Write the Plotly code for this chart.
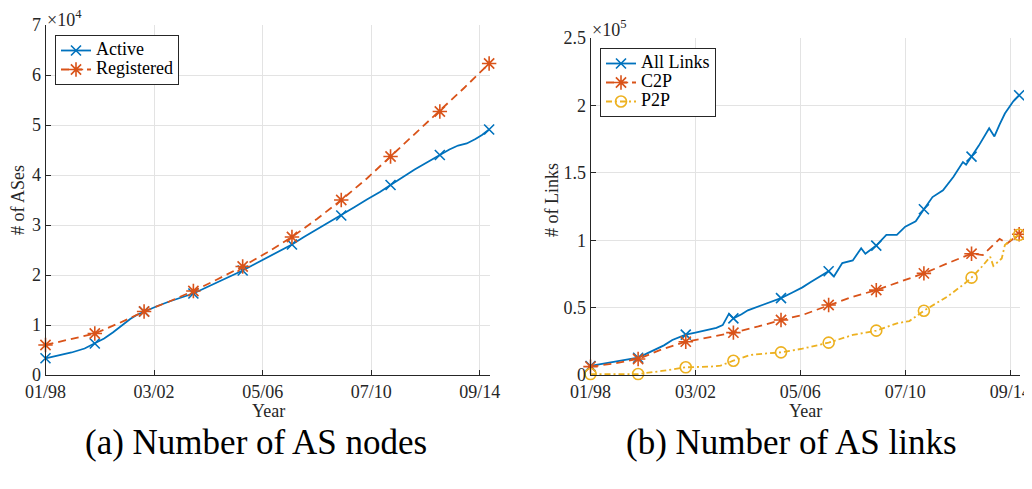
import plotly.graph_objects as go

# ---------------- data ----------------
# x in months since 01/1998
TICK_MONTHS = [0, 50, 100, 150, 200]
TICK_LABELS = ["01/98", "03/02", "05/06", "07/10", "09/14"]
MARK_MONTHS = [0, 22.7, 45.4, 68.1, 90.8, 113.5, 136.2, 158.9, 181.6, 204.3]

# (a) number of AS nodes, in units of 1e4
ACTIVE_M = [0, 6, 12, 18, 22.7, 27, 31, 35, 39, 42, 45.4, 51, 57, 63, 68.1, 74, 80, 86,
            90.8, 96, 102, 108, 113.5, 119, 125, 131, 136.2, 142, 148, 154, 158.9, 164,
            170, 176, 181.6, 186, 190, 194, 198, 201, 204.3]
ACTIVE_V = [0.334, 0.39, 0.45, 0.53, 0.63, 0.73, 0.85, 0.99, 1.12, 1.20, 1.27, 1.37, 1.47,
            1.56, 1.63, 1.75, 1.87, 1.98, 2.09, 2.21, 2.35, 2.48, 2.61, 2.76, 2.91, 3.06,
            3.19, 3.35, 3.51, 3.66, 3.80, 3.95, 4.11, 4.26, 4.40, 4.51, 4.59, 4.63, 4.72,
            4.80, 4.91]
REG_M = [0, 11, 22.7, 34, 45.4, 57, 68.1, 79, 90.8, 102, 113.5, 125, 136.2, 148, 158.9,
         170, 181.6, 193, 204.3]
REG_V = [0.60, 0.71, 0.83, 1.04, 1.27, 1.47, 1.68, 1.91, 2.17, 2.45, 2.76, 3.12, 3.50,
         3.93, 4.37, 4.82, 5.27, 5.75, 6.23]

# (b) number of AS links, in units of 1e5
ALL_M = [0, 8, 16, 22.7, 27, 31, 35, 39, 42, 45.4, 50, 55, 60, 63, 66, 68.1, 72, 75, 80,
         85, 90.8, 96, 101, 105, 109, 113.5, 116, 120, 125, 129, 131, 136.2, 141, 146,
         150, 155, 158.9, 163, 168, 173, 177.5, 179, 181.6, 185, 190, 192.5, 195, 197.5,
         201.5, 204.3]
ALL_V = [0.067, 0.09, 0.108, 0.128, 0.16, 0.19, 0.22, 0.26, 0.28, 0.30, 0.315, 0.33, 0.35,
         0.37, 0.455, 0.42, 0.45, 0.48, 0.51, 0.535, 0.57, 0.61, 0.65, 0.69, 0.73, 0.77,
         0.73, 0.83, 0.85, 0.94, 0.90, 0.96, 1.04, 1.04, 1.10, 1.14, 1.23, 1.32, 1.37,
         1.47, 1.58, 1.56, 1.62, 1.70, 1.83, 1.77, 1.86, 1.94, 2.03, 2.075]
C2P_M = [0, 11, 22.7, 34, 45.4, 57, 68.1, 80, 90.8, 101, 113.5, 124, 136.2, 148, 158.9,
         170, 181.6, 187, 195, 198.5, 204.3]
C2P_V = [0.062, 0.085, 0.119, 0.19, 0.247, 0.28, 0.314, 0.36, 0.408, 0.445, 0.519, 0.576,
         0.63, 0.692, 0.754, 0.828, 0.90, 0.89, 1.01, 0.975, 1.044]
P2P_M = [0, 11, 22.7, 34, 45.4, 57, 62, 68.1, 76, 84, 90.8, 101, 113.5, 125, 136.2, 146,
         152, 158.9, 170, 177.5, 181.6, 186.5, 190.5, 192, 196, 197.5, 201, 204.3]
P2P_V = [0.007, 0.006, 0.007, 0.03, 0.057, 0.062, 0.07, 0.106, 0.148, 0.16, 0.168, 0.195,
         0.24, 0.297, 0.329, 0.383, 0.40, 0.477, 0.581, 0.668, 0.722, 0.803, 0.877, 0.809,
         0.865, 0.964, 1.014, 1.04]

# ---------------- style ----------------
BLUE, ORANGE, YELLOW = "#0072BD", "#D95319", "#EDB120"
INK = "#262626"
GRID = "#e3e3e3"
FONT = "Liberation Serif"
OFF = 8                      # page body margin
W, H = 1032 - OFF, 489 - OFF  # figure size so that it fills the window


def px(sx):
    return (sx - OFF) / W


def py(sy):
    return 1 - (sy - OFF) / H


def mark_colors(months, color):
    return [color if any(abs(m - k) < 1e-6 for k in MARK_MONTHS) else "rgba(0,0,0,0)"
            for m in months]


def label(name):
    return '<span style="font-size:18px">%s</span>' % name


def series(months, vals, name, color, symbol, size, dash, xa, ya, legend):
    return go.Scatter(
        x=months, y=vals, name=label(name), mode="lines+markers",
        line=dict(color=color, width=1.8, dash=dash),
        marker=dict(symbol=symbol, size=size, color=mark_colors(months, color),
                    line=dict(width=1.6)),
        xaxis=xa, yaxis=ya, legend=legend, cliponaxis=False,
    )


fig = go.Figure()
fig.add_trace(series(ACTIVE_M, ACTIVE_V, "Active", BLUE, "x-thin-open", 10, "solid", "x", "y", "legend"))
fig.add_trace(series(REG_M, REG_V, "Registered", ORANGE, "asterisk-open", 12, "8px,5px", "x", "y", "legend"))
fig.add_trace(series(ALL_M, ALL_V, "All Links", BLUE, "x-thin-open", 10, "solid", "x2", "y2", "legend2"))
fig.add_trace(series(C2P_M, C2P_V, "C2P", ORANGE, "asterisk-open", 12, "8px,5px", "x2", "y2", "legend2"))
fig.add_trace(series(P2P_M, P2P_V, "P2P", YELLOW, "circle-open", 11, "6px,3px,2px,3px", "x2", "y2", "legend2"))

axis_common = dict(
    showgrid=True, gridcolor=GRID, gridwidth=1, zeroline=False, automargin=False,
    showline=True, linecolor=INK, linewidth=1, ticks="inside", ticklen=5,
    tickcolor=INK, tickfont=dict(family=FONT, size=18, color=INK),
)

legend_common = dict(xanchor="left", yanchor="top", bgcolor="white", bordercolor=INK,
                     borderwidth=1, font=dict(family=FONT, size=12, color="black"),
                     tracegroupgap=0)

fig.update_layout(
    width=W, height=H, margin=dict(l=0, r=0, t=0, b=0, autoexpand=False),
    paper_bgcolor="white", plot_bgcolor="white",
    font=dict(family=FONT, color=INK),
    xaxis=dict(domain=[px(45.5), px(490)], range=[0, 204.7], tickvals=TICK_MONTHS,
               ticktext=TICK_LABELS, anchor="y", **axis_common),
    yaxis=dict(domain=[py(375), py(25)], range=[0, 7], tickvals=[0, 1, 2, 3, 4, 5, 6, 7],
               anchor="x", **axis_common),
    xaxis2=dict(domain=[px(590.5), px(1020)], range=[0, 204.7], tickvals=TICK_MONTHS,
                ticktext=TICK_LABELS, anchor="y2", **axis_common),
    yaxis2=dict(domain=[py(375), py(38)], range=[0, 2.5],
                tickvals=[0, 0.5, 1, 1.5, 2, 2.5], ticktext=["0", "0.5", "1", "1.5", "2", "2.5"],
                anchor="x2", **axis_common),
    legend=dict(x=px(55), y=py(35), **legend_common),
    legend2=dict(x=px(600), y=py(48), **legend_common),
    showlegend=True,
)

ann = []


def txt(x, y, text, size, angle=0, xanchor="center", yanchor="middle", color=INK):
    ann.append(dict(x=px(x), y=py(y), xref="paper", yref="paper", text=text,
                    showarrow=False, textangle=angle, xanchor=xanchor, yanchor=yanchor,
                    font=dict(family=FONT, size=size, color=color)))


txt(45, 18.5, "×10<sup>4</sup>", 18, xanchor="left")
txt(590, 29, "×10<sup>5</sup>", 18, xanchor="left")
txt(18, 200, "# of ASes", 18, angle=-90)
txt(552, 200, "# of Links", 18, angle=-90)
txt(268, 411, "Year", 18)
txt(805, 411, "Year", 18)
txt(256, 442, "(a) Number of AS nodes", 35, color="black")
txt(791, 442, "(b) Number of AS links", 35, color="black")
fig.update_layout(annotations=ann)

fig.write_html("out.html")
